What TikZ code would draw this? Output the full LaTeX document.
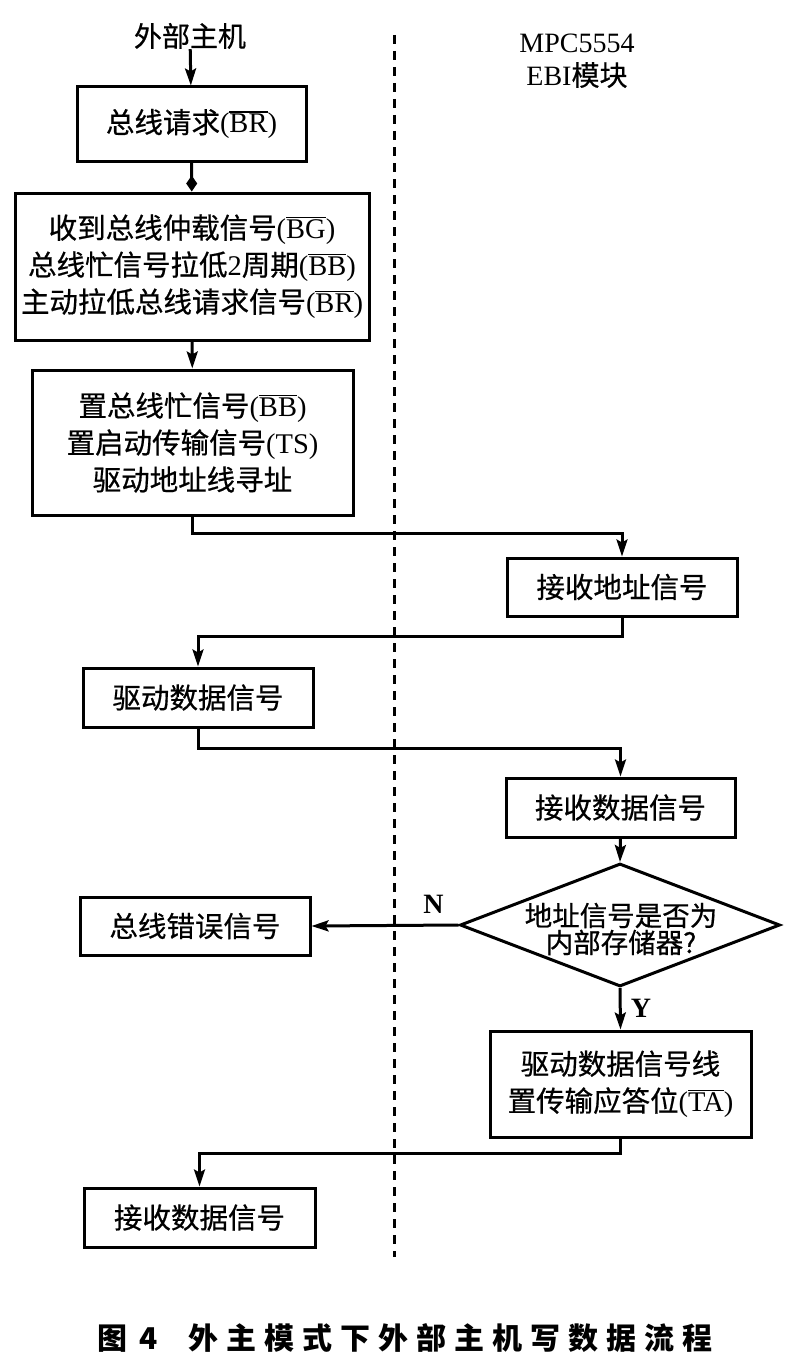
\documentclass[tikz,border=0pt]{standalone}
\usepackage{fontspec}
\setmainfont{Liberation Serif}
\newfontfamily\cjk{Noto Sans CJK SC}[FakeBold=0.6]
\newfontfamily\cjkcap{Noto Sans CJK SC}
\usetikzlibrary{arrows.meta,shapes.geometric}
\newcommand\lat[1]{{\rmfamily #1}}
\newsavebox\ovbox
\newcommand\ov[1]{\leavevmode\sbox\ovbox{#1}\rlap{\raisebox{\dimexpr\ht\ovbox+1.4pt\relax}{\rule{\wd\ovbox}{1.6pt}}}\usebox\ovbox}
\newcommand\csp{\hspace{8pt}}
\tikzset{
  box/.style={draw, line width=3pt, inner sep=0pt, align=center,
    font=\cjk\fontsize{28.5}{37}\selectfont},
  lbl/.style={inner sep=0pt, align=center, font=\cjk\fontsize{28}{33}\selectfont},
  yn/.style={inner sep=0pt, font=\rmfamily\bfseries\fontsize{28}{30}\selectfont},
  conn/.style={line width=3pt, -{Stealth[length=17pt,width=11pt,inset=3pt]}},
  conndia/.style={line width=3pt, -{Diamond[length=16pt,width=11pt]}},
  sep/.style={line width=3pt, dash pattern=on 9pt off 7pt}
}
\begin{document}
\begin{tikzpicture}[x=1pt,y=-1pt]
\useasboundingbox (0,0) rectangle (806,1370);
% headings
\node[lbl] (host) at (190,36) {外部主机};
\node[lbl, font=\rmfamily\fontsize{28}{33}\selectfont] (mpc) at (577,61) {MPC5554\\EBI{\cjk 模块}};
% swimlane separator
\coordinate (dtop) at (394,35);
\coordinate (dbot) at (394,1257);
\draw[sep] (dtop) -- (dbot);
% boxes
\node[box, minimum width=229pt, minimum height=74pt] (b1) at (191.5,124)
  {总线请求\lat{(\ov{BR})}};
\node[box, minimum width=354pt, minimum height=147pt] (b2) at (192,266.5)
  {收到总线仲载信号\lat{(\ov{BG})}\\总线忙信号拉低\lat{2}周期\lat{(\ov{BB})}\\主动拉低总线请求信号\lat{(\ov{BR})}};
\node[box, minimum width=321pt, minimum height=145pt] (b3) at (192.5,442.5)
  {置总线忙信号\lat{(\ov{BB})}\\置启动传输信号\lat{(TS)}\\驱动地址线寻址};
\node[box, minimum width=230pt, minimum height=58pt] (b4) at (622,587) {接收地址信号};
\node[box, minimum width=230pt, minimum height=59pt] (b5) at (198,697.5) {驱动数据信号};
\node[box, minimum width=229pt, minimum height=59pt] (b6) at (620.5,807.5) {接收数据信号};
\node[diamond, draw, line width=3pt, minimum width=320pt, minimum height=123pt, inner sep=0pt] (d) at (620,925) {};
\node[lbl, font=\cjk\fontsize{27.5}{27}\selectfont] (dt) at (621,929) {地址信号是否为\\内部存储器?};
\node[box, minimum width=230pt, minimum height=58pt] (b7) at (195,926) {总线错误信号};
\node[box, minimum width=261pt, minimum height=106pt] (b8) at (620.5,1084)
  {驱动数据信号线\\置传输应答位\lat{(\ov{TA})}};
\node[box, minimum width=231pt, minimum height=59pt] (b9) at (199.5,1217.5) {接收数据信号};
% connectors
\draw[conn] (host) -- (b1);
\draw[conndia] (b1) -- (b2);
\draw[conn] (b2) -- (b3);
\draw[conn] (b3.south) -- ++(0,17) -| (b4.north);
\draw[conn] (b4.south) -- ++(0,19) -| (b5.north);
\draw[conn] (b5.south) -- ++(0,20) -| (b6.north);
\draw[conn] (b6.south) -- (d.north);
\draw[conn] (d.west) -- node[yn, above=10pt, pos=0.17] (nl) {N} (b7.east);
\draw[conn] (d.south) -- node[yn, right=9pt, pos=0.5] (yl) {Y} (b8.north);
\draw[conn] (b8.south) -- ++(0,15) -| (b9.north);
% caption
\node[inner sep=0pt, font=\cjkcap\bfseries\fontsize{30}{34}\selectfont] (cap) at (405,1338)
  {图\hspace{12pt}4\hspace{30pt}外\csp 主\csp 模\csp 式\csp 下\csp 外\csp 部\csp 主\csp 机\csp 写\csp 数\csp 据\csp 流\csp 程};
\end{tikzpicture}
\end{document}
